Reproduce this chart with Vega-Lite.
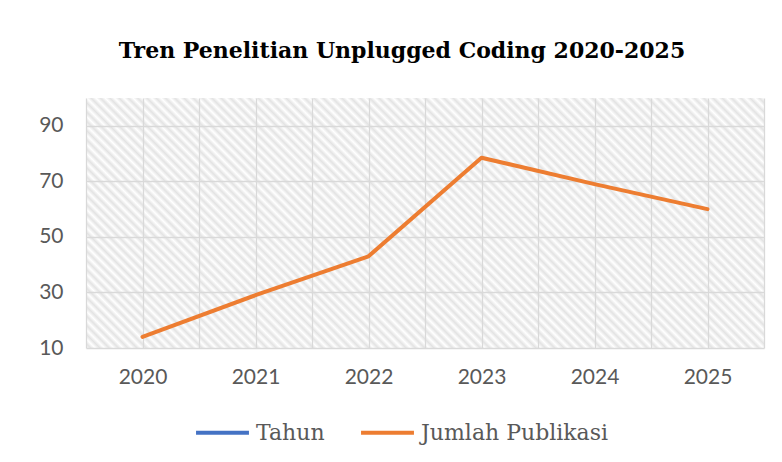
{
  "$schema": "https://vega.github.io/schema/vega-lite/v6.json",
  "autosize": {"type": "none"},
  "width": 678,
  "height": 250,
  "padding": {"left": 86, "top": 98, "right": 18, "bottom": 114},
  "background": "white",
  "title": {
    "text": "Tren Penelitian Unplugged Coding 2020-2025",
    "font": "DejaVu Serif",
    "fontSize": 22,
    "fontWeight": "bold",
    "color": "#000000",
    "anchor": "middle",
    "baseline": "alphabetic",
    "dx": -23,
    "offset": 18
  },
  "view": {
    "stroke": null,
    "fill": {
      "gradient": "linear",
      "x1": 0, "y1": 1, "x2": 1.2049, "y2": 0.5557,
      "stops": [
        {"offset": 0.000, "color": "#ffffff"}, {"offset": 0.005, "color": "#e3e3e3"},
        {"offset": 0.010, "color": "#ffffff"}, {"offset": 0.015, "color": "#e3e3e3"},
        {"offset": 0.020, "color": "#ffffff"}, {"offset": 0.025, "color": "#e3e3e3"},
        {"offset": 0.030, "color": "#ffffff"}, {"offset": 0.035, "color": "#e3e3e3"},
        {"offset": 0.040, "color": "#ffffff"}, {"offset": 0.045, "color": "#e3e3e3"},
        {"offset": 0.050, "color": "#ffffff"}, {"offset": 0.055, "color": "#e3e3e3"},
        {"offset": 0.060, "color": "#ffffff"}, {"offset": 0.065, "color": "#e3e3e3"},
        {"offset": 0.070, "color": "#ffffff"}, {"offset": 0.075, "color": "#e3e3e3"},
        {"offset": 0.080, "color": "#ffffff"}, {"offset": 0.085, "color": "#e3e3e3"},
        {"offset": 0.090, "color": "#ffffff"}, {"offset": 0.095, "color": "#e3e3e3"},
        {"offset": 0.100, "color": "#ffffff"}, {"offset": 0.105, "color": "#e3e3e3"},
        {"offset": 0.110, "color": "#ffffff"}, {"offset": 0.115, "color": "#e3e3e3"},
        {"offset": 0.120, "color": "#ffffff"}, {"offset": 0.125, "color": "#e3e3e3"},
        {"offset": 0.130, "color": "#ffffff"}, {"offset": 0.135, "color": "#e3e3e3"},
        {"offset": 0.140, "color": "#ffffff"}, {"offset": 0.145, "color": "#e3e3e3"},
        {"offset": 0.150, "color": "#ffffff"}, {"offset": 0.155, "color": "#e3e3e3"},
        {"offset": 0.160, "color": "#ffffff"}, {"offset": 0.165, "color": "#e3e3e3"},
        {"offset": 0.170, "color": "#ffffff"}, {"offset": 0.175, "color": "#e3e3e3"},
        {"offset": 0.180, "color": "#ffffff"}, {"offset": 0.185, "color": "#e3e3e3"},
        {"offset": 0.190, "color": "#ffffff"}, {"offset": 0.195, "color": "#e3e3e3"},
        {"offset": 0.200, "color": "#ffffff"}, {"offset": 0.205, "color": "#e3e3e3"},
        {"offset": 0.210, "color": "#ffffff"}, {"offset": 0.215, "color": "#e3e3e3"},
        {"offset": 0.220, "color": "#ffffff"}, {"offset": 0.225, "color": "#e3e3e3"},
        {"offset": 0.230, "color": "#ffffff"}, {"offset": 0.235, "color": "#e3e3e3"},
        {"offset": 0.240, "color": "#ffffff"}, {"offset": 0.245, "color": "#e3e3e3"},
        {"offset": 0.250, "color": "#ffffff"}, {"offset": 0.255, "color": "#e3e3e3"},
        {"offset": 0.260, "color": "#ffffff"}, {"offset": 0.265, "color": "#e3e3e3"},
        {"offset": 0.270, "color": "#ffffff"}, {"offset": 0.275, "color": "#e3e3e3"},
        {"offset": 0.280, "color": "#ffffff"}, {"offset": 0.285, "color": "#e3e3e3"},
        {"offset": 0.290, "color": "#ffffff"}, {"offset": 0.295, "color": "#e3e3e3"},
        {"offset": 0.300, "color": "#ffffff"}, {"offset": 0.305, "color": "#e3e3e3"},
        {"offset": 0.310, "color": "#ffffff"}, {"offset": 0.315, "color": "#e3e3e3"},
        {"offset": 0.320, "color": "#ffffff"}, {"offset": 0.325, "color": "#e3e3e3"},
        {"offset": 0.330, "color": "#ffffff"}, {"offset": 0.335, "color": "#e3e3e3"},
        {"offset": 0.340, "color": "#ffffff"}, {"offset": 0.345, "color": "#e3e3e3"},
        {"offset": 0.350, "color": "#ffffff"}, {"offset": 0.355, "color": "#e3e3e3"},
        {"offset": 0.360, "color": "#ffffff"}, {"offset": 0.365, "color": "#e3e3e3"},
        {"offset": 0.370, "color": "#ffffff"}, {"offset": 0.375, "color": "#e3e3e3"},
        {"offset": 0.380, "color": "#ffffff"}, {"offset": 0.385, "color": "#e3e3e3"},
        {"offset": 0.390, "color": "#ffffff"}, {"offset": 0.395, "color": "#e3e3e3"},
        {"offset": 0.400, "color": "#ffffff"}, {"offset": 0.405, "color": "#e3e3e3"},
        {"offset": 0.410, "color": "#ffffff"}, {"offset": 0.415, "color": "#e3e3e3"},
        {"offset": 0.420, "color": "#ffffff"}, {"offset": 0.425, "color": "#e3e3e3"},
        {"offset": 0.430, "color": "#ffffff"}, {"offset": 0.435, "color": "#e3e3e3"},
        {"offset": 0.440, "color": "#ffffff"}, {"offset": 0.445, "color": "#e3e3e3"},
        {"offset": 0.450, "color": "#ffffff"}, {"offset": 0.455, "color": "#e3e3e3"},
        {"offset": 0.460, "color": "#ffffff"}, {"offset": 0.465, "color": "#e3e3e3"},
        {"offset": 0.470, "color": "#ffffff"}, {"offset": 0.475, "color": "#e3e3e3"},
        {"offset": 0.480, "color": "#ffffff"}, {"offset": 0.485, "color": "#e3e3e3"},
        {"offset": 0.490, "color": "#ffffff"}, {"offset": 0.495, "color": "#e3e3e3"},
        {"offset": 0.500, "color": "#ffffff"}, {"offset": 0.505, "color": "#e3e3e3"},
        {"offset": 0.510, "color": "#ffffff"}, {"offset": 0.515, "color": "#e3e3e3"},
        {"offset": 0.520, "color": "#ffffff"}, {"offset": 0.525, "color": "#e3e3e3"},
        {"offset": 0.530, "color": "#ffffff"}, {"offset": 0.535, "color": "#e3e3e3"},
        {"offset": 0.540, "color": "#ffffff"}, {"offset": 0.545, "color": "#e3e3e3"},
        {"offset": 0.550, "color": "#ffffff"}, {"offset": 0.555, "color": "#e3e3e3"},
        {"offset": 0.560, "color": "#ffffff"}, {"offset": 0.565, "color": "#e3e3e3"},
        {"offset": 0.570, "color": "#ffffff"}, {"offset": 0.575, "color": "#e3e3e3"},
        {"offset": 0.580, "color": "#ffffff"}, {"offset": 0.585, "color": "#e3e3e3"},
        {"offset": 0.590, "color": "#ffffff"}, {"offset": 0.595, "color": "#e3e3e3"},
        {"offset": 0.600, "color": "#ffffff"}, {"offset": 0.605, "color": "#e3e3e3"},
        {"offset": 0.610, "color": "#ffffff"}, {"offset": 0.615, "color": "#e3e3e3"},
        {"offset": 0.620, "color": "#ffffff"}, {"offset": 0.625, "color": "#e3e3e3"},
        {"offset": 0.630, "color": "#ffffff"}, {"offset": 0.635, "color": "#e3e3e3"},
        {"offset": 0.640, "color": "#ffffff"}, {"offset": 0.645, "color": "#e3e3e3"},
        {"offset": 0.650, "color": "#ffffff"}, {"offset": 0.655, "color": "#e3e3e3"},
        {"offset": 0.660, "color": "#ffffff"}, {"offset": 0.665, "color": "#e3e3e3"},
        {"offset": 0.670, "color": "#ffffff"}, {"offset": 0.675, "color": "#e3e3e3"},
        {"offset": 0.680, "color": "#ffffff"}, {"offset": 0.685, "color": "#e3e3e3"},
        {"offset": 0.690, "color": "#ffffff"}, {"offset": 0.695, "color": "#e3e3e3"},
        {"offset": 0.700, "color": "#ffffff"}, {"offset": 0.705, "color": "#e3e3e3"},
        {"offset": 0.710, "color": "#ffffff"}, {"offset": 0.715, "color": "#e3e3e3"},
        {"offset": 0.720, "color": "#ffffff"}, {"offset": 0.725, "color": "#e3e3e3"},
        {"offset": 0.730, "color": "#ffffff"}, {"offset": 0.735, "color": "#e3e3e3"},
        {"offset": 0.740, "color": "#ffffff"}, {"offset": 0.745, "color": "#e3e3e3"},
        {"offset": 0.750, "color": "#ffffff"}, {"offset": 0.755, "color": "#e3e3e3"},
        {"offset": 0.760, "color": "#ffffff"}, {"offset": 0.765, "color": "#e3e3e3"},
        {"offset": 0.770, "color": "#ffffff"}, {"offset": 0.775, "color": "#e3e3e3"},
        {"offset": 0.780, "color": "#ffffff"}, {"offset": 0.785, "color": "#e3e3e3"},
        {"offset": 0.790, "color": "#ffffff"}, {"offset": 0.795, "color": "#e3e3e3"},
        {"offset": 0.800, "color": "#ffffff"}, {"offset": 0.805, "color": "#e3e3e3"},
        {"offset": 0.810, "color": "#ffffff"}, {"offset": 0.815, "color": "#e3e3e3"},
        {"offset": 0.820, "color": "#ffffff"}, {"offset": 0.825, "color": "#e3e3e3"},
        {"offset": 0.830, "color": "#ffffff"}, {"offset": 0.835, "color": "#e3e3e3"},
        {"offset": 0.840, "color": "#ffffff"}, {"offset": 0.845, "color": "#e3e3e3"},
        {"offset": 0.850, "color": "#ffffff"}, {"offset": 0.855, "color": "#e3e3e3"},
        {"offset": 0.860, "color": "#ffffff"}, {"offset": 0.865, "color": "#e3e3e3"},
        {"offset": 0.870, "color": "#ffffff"}, {"offset": 0.875, "color": "#e3e3e3"},
        {"offset": 0.880, "color": "#ffffff"}, {"offset": 0.885, "color": "#e3e3e3"},
        {"offset": 0.890, "color": "#ffffff"}, {"offset": 0.895, "color": "#e3e3e3"},
        {"offset": 0.900, "color": "#ffffff"}, {"offset": 0.905, "color": "#e3e3e3"},
        {"offset": 0.910, "color": "#ffffff"}, {"offset": 0.915, "color": "#e3e3e3"},
        {"offset": 0.920, "color": "#ffffff"}, {"offset": 0.925, "color": "#e3e3e3"},
        {"offset": 0.930, "color": "#ffffff"}, {"offset": 0.935, "color": "#e3e3e3"},
        {"offset": 0.940, "color": "#ffffff"}, {"offset": 0.945, "color": "#e3e3e3"},
        {"offset": 0.950, "color": "#ffffff"}, {"offset": 0.955, "color": "#e3e3e3"},
        {"offset": 0.960, "color": "#ffffff"}, {"offset": 0.965, "color": "#e3e3e3"},
        {"offset": 0.970, "color": "#ffffff"}, {"offset": 0.975, "color": "#e3e3e3"},
        {"offset": 0.980, "color": "#ffffff"}, {"offset": 0.985, "color": "#e3e3e3"},
        {"offset": 0.990, "color": "#ffffff"}, {"offset": 0.995, "color": "#e3e3e3"},
        {"offset": 1.000, "color": "#ffffff"}
      ]
    }
  },
  "data": {
    "values": [
      {"tahun": 2020, "jumlah": 14, "seri": "Jumlah Publikasi"},
      {"tahun": 2021, "jumlah": 29, "seri": "Jumlah Publikasi"},
      {"tahun": 2022, "jumlah": 43, "seri": "Jumlah Publikasi"},
      {"tahun": 2023, "jumlah": 78.5, "seri": "Jumlah Publikasi"},
      {"tahun": 2024, "jumlah": 69, "seri": "Jumlah Publikasi"},
      {"tahun": 2025, "jumlah": 60, "seri": "Jumlah Publikasi"}
    ]
  },
  "mark": {"type": "line", "strokeWidth": 4, "strokeCap": "round", "strokeJoin": "round"},
  "encoding": {
    "x": {
      "field": "tahun",
      "type": "quantitative",
      "scale": {"domain": [2019.5, 2025.5], "nice": false, "zero": false},
      "axis": {
        "title": null,
        "values": [2019.5, 2020, 2020.5, 2021, 2021.5, 2022, 2022.5, 2023, 2023.5, 2024, 2024.5, 2025, 2025.5],
        "labelExpr": "datum.value % 1 === 0 ? '' + datum.value : ''",
        "labelOverlap": false,
        "labelBound": false,
        "labelFlush": false,
        "grid": true,
        "gridColor": "#d9d9d9",
        "gridWidth": 1.3,
        "ticks": false,
        "domain": false,
        "labelFont": "Lato",
        "labelFontSize": 21,
        "labelColor": "#595959",
        "labelPadding": 18
      }
    },
    "y": {
      "field": "jumlah",
      "type": "quantitative",
      "scale": {"domain": [10, 100], "nice": false, "zero": false},
      "axis": {
        "title": null,
        "values": [10, 30, 50, 70, 90],
        "grid": true,
        "gridColor": "#d9d9d9",
        "gridWidth": 1.3,
        "ticks": false,
        "domain": false,
        "labelFont": "Lato",
        "labelFontSize": 21,
        "labelColor": "#595959",
        "labelPadding": 23
      }
    },
    "color": {
      "field": "seri",
      "type": "nominal",
      "scale": {"domain": ["Tahun", "Jumlah Publikasi"], "range": ["#4472C4", "#ED7D31"]},
      "legend": {
        "title": null,
        "orient": "none",
        "direction": "horizontal",
        "legendX": 108,
        "legendY": 306,
        "symbolType": "stroke",
        "symbolSize": 2800,
        "symbolStrokeWidth": 4,
        "labelFont": "DejaVu Serif",
        "labelFontSize": 22,
        "labelColor": "#595959",
        "labelOffset": 5,
        "labelLimit": 0,
        "columnPadding": 28,
        "symbolLimit": 0
      }
    }
  }
}
